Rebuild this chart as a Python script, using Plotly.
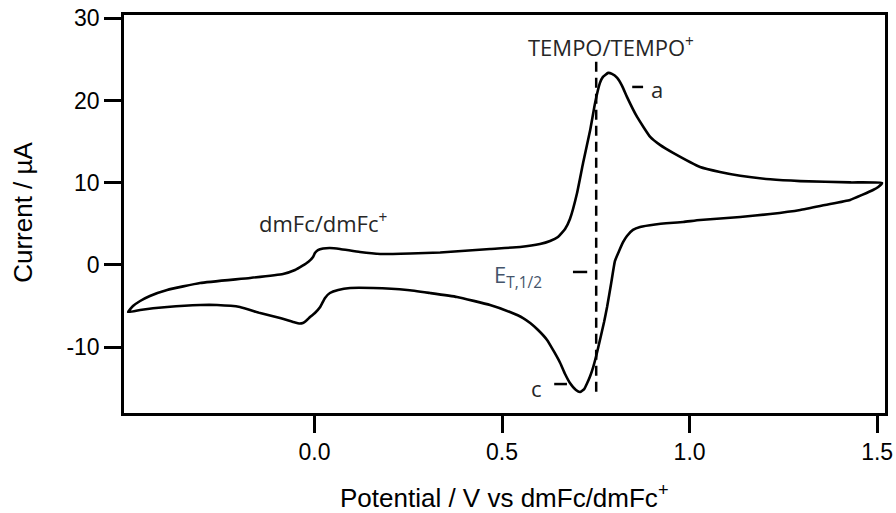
import plotly.graph_objects as go

# Cyclic voltammogram: forward (anodic) sweep then reverse sweep
potential_fwd = [-0.497, -0.484, -0.465, -0.439, -0.393, -0.305, -0.172, -0.084, -0.052, -0.033,
                 -0.017, -0.004, 0.001, 0.009, 0.023, 0.041, 0.068, 0.121, 0.175, 0.255,
                 0.335, 0.468, 0.548, 0.601, 0.628, 0.649, 0.668, 0.681, 0.700, 0.716,
                 0.735, 0.748, 0.761, 0.769, 0.783, 0.793, 0.807, 0.820, 0.833, 0.860,
                 0.895, 0.921, 0.956, 1.028, 1.081, 1.135, 1.215, 1.295, 1.428, 1.513]
current_fwd = [-5.72, -4.99, -4.38, -3.77, -3.04, -2.19, -1.58, -1.09, -0.61, -0.12,
               0.36, 0.97, 1.46, 1.82, 2.01, 2.07, 1.95, 1.58, 1.34, 1.40,
               1.52, 1.95, 2.19, 2.55, 2.92, 3.41, 4.38, 5.60, 8.76, 12.41,
               16.42, 19.71, 22.14, 22.87, 23.36, 23.24, 22.75, 21.78, 20.44, 18.00,
               15.57, 14.60, 13.63, 11.92, 11.31, 10.85, 10.42, 10.20, 10.04, 9.98]

potential_rev = [1.503, 1.489, 1.460, 1.428, 1.361, 1.295, 1.215, 1.135, 1.028, 0.983,
                 0.908, 0.868, 0.849, 0.833, 0.823, 0.812, 0.801, 0.791, 0.780, 0.772,
                 0.761, 0.751, 0.743, 0.735, 0.727, 0.719, 0.708, 0.697, 0.681, 0.668,
                 0.655, 0.639, 0.620, 0.596, 0.575, 0.556, 0.521, 0.468, 0.380, 0.308,
                 0.247, 0.156, 0.095, 0.063, 0.041, 0.028, 0.015, 0.001, -0.012, -0.023,
                 -0.031, -0.041, -0.052, -0.092, -0.145, -0.199, -0.260, -0.305, -0.393, -0.465,
                 -0.497]
current_rev = [9.49, 9.12, 8.52, 7.91, 7.30, 6.69, 6.20, 5.84, 5.47, 5.23,
               4.93, 4.62, 4.26, 3.53, 2.80, 1.70, 0.49, -2.19, -5.11, -6.93,
               -9.12, -11.07, -12.41, -13.50, -14.36, -15.09, -15.45, -15.21, -14.36, -13.26,
               -11.92, -10.58, -9.12, -7.91, -7.06, -6.45, -5.72, -4.87, -3.89, -3.41,
               -3.04, -2.80, -2.80, -3.04, -3.41, -4.01, -5.11, -5.84, -6.33, -6.81,
               -7.06, -7.12, -7.00, -6.45, -5.84, -5.11, -4.87, -4.87, -5.11, -5.47,
               -5.72]

potential = potential_fwd + potential_rev
current = current_fwd + current_rev

x_ticks = [0.0, 0.5, 1.0, 1.5]
x_ticklabels = ["0.0", "0.5", "1.0", "1.5"]
y_ticks = [-10, 0, 10, 20, 30]
y_ticklabels = ["-10", "0", "10", "20", "30"]

e_half = 0.751
dash_top, dash_bottom = 24.7, -16.1

fig = go.Figure()
fig.add_trace(go.Scatter(x=potential, y=current, mode="lines",
                         line=dict(color="black", width=2.6, shape="spline", smoothing=0.4),
                         showlegend=False, hoverinfo="skip"))
fig.add_trace(go.Scatter(x=[e_half, e_half], y=[dash_top, dash_bottom], mode="lines",
                         line=dict(color="black", width=2.5, dash="10px,6px"),
                         showlegend=False, hoverinfo="skip"))

short_dashes = [((0.847, 0.876), 21.65), ((0.689, 0.727), -0.85), ((0.639, 0.673), -14.48)]
for (xa, xb), yv in short_dashes:
    fig.add_shape(type="line", x0=xa, x1=xb, y0=yv, y1=yv, line=dict(color="black", width=2.5))

afont = dict(family="Open Sans, Noto Sans", size=22, color="#262626")
fig.add_annotation(x=0.023, y=5.2, text="dmFc/dmFc<sup>+</sup>", showarrow=False, font=afont)
fig.add_annotation(x=0.79, y=26.6, text="TEMPO/TEMPO<sup>+</sup>", showarrow=False, font=afont)
fig.add_annotation(x=0.912, y=21.4, text="a", showarrow=False, font=afont)
fig.add_annotation(x=0.593, y=-15.0, text="c", showarrow=False, font=afont)
fig.add_annotation(x=0.543, y=-1.3, text="E<sub>T,1/2</sub>", showarrow=False,
                   font=dict(family="Open Sans, Noto Sans", size=22, color="#44546a"))

tfont = dict(family="Liberation Sans, Arial", size=26, color="black")
fig.add_annotation(xref="paper", yref="paper", x=0.5, y=-0.211, text="Potential / V vs dmFc/dmFc<sup>+</sup>",
                   showarrow=False, font=tfont, yanchor="middle")
fig.add_annotation(xref="paper", yref="paper", x=-0.133, y=0.505, text="Current / µA", textangle=-90,
                   showarrow=False, font=tfont, xanchor="center", yanchor="middle")

axis_common = dict(showline=True, linecolor="black", linewidth=2.5, mirror=True,
                   ticks="outside", ticklen=17, tickwidth=2.5, tickcolor="black",
                   showgrid=False, zeroline=False, automargin=False,
                   tickfont=dict(family="Liberation Sans, Arial", size=23, color="black"))
fig.update_xaxes(range=[-0.508, 1.521], tickvals=x_ticks, ticktext=x_ticklabels, **axis_common)
fig.update_yaxes(range=[-18.0, 30.4], tickvals=y_ticks, ticktext=y_ticklabels, **axis_common)

fig.update_layout(width=896, height=513, margin=dict(l=124, r=11, t=15, b=100),
                  plot_bgcolor="white", paper_bgcolor="white")
fig.write_html("out.html")
